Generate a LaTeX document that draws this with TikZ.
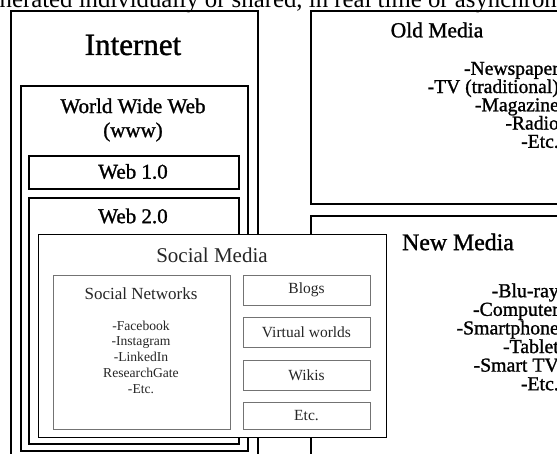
\documentclass[tikz,border=0pt]{standalone}
\usepackage{fontspec}
\setmainfont{Liberation Serif}
\newfontfamily\heavyfont{Liberation Serif}[FakeBold=1.2]
\newcommand{\fsz}[2]{\fontsize{#1}{#2}\selectfont}
\begin{document}
\begin{tikzpicture}[x=1pt,y=-1pt,
  thickbox/.style={draw=black, line width=2.2pt, inner sep=0pt, anchor=north west},
  smbox/.style={draw=black, line width=1.3pt, fill=white, inner sep=0pt, anchor=north west},
  graybox/.style={draw=black!55, line width=1pt, inner sep=0pt, anchor=north west},
  lbl/.style={inner sep=0pt, text=black},
  hlbl/.style={inner sep=0pt, text=black},
  smlbl/.style={inner sep=0pt, text=black!85}]
\useasboundingbox (0,0) rectangle (557,454);

% cropped caption line at top
\node[lbl, anchor=base west, font=\fsz{24.8}{28}] (caption) at (-24,8) {generated individually or shared, in real time or asynchronously};

% Internet column
\node[thickbox, minimum width=247pt, minimum height=470pt] (internet) at (10,10) {};
\node[hlbl, font=\heavyfont\fsz{31}{34}] (internetlbl) at (133,45) {Internet};
\node[thickbox, minimum width=227pt, minimum height=365pt] (www) at (20,85) {};
\node[hlbl, font=\heavyfont\fsz{21}{24}, align=center] (wwwlbl) at (133,120) {World Wide Web\\(www)};
\node[thickbox, minimum width=210pt, minimum height=33pt] (web1) at (28,155) {};
\node[hlbl, font=\heavyfont\fsz{21}{22}] (web1lbl) at (133,171.5) {Web 1.0};
\node[thickbox, minimum width=210pt, minimum height=246pt] (web2) at (28,197) {};
\node[hlbl, font=\heavyfont\fsz{21}{22}] (web2lbl) at (133,216) {Web 2.0};

% Old media
\node[thickbox, minimum width=300pt, minimum height=193pt] (old) at (310,10) {};
\node[hlbl, font=\heavyfont\fsz{21.5}{24}] (oldlbl) at (437,30) {Old Media};
\node[hlbl, font=\heavyfont\fsz{19.6}{18.25}, align=right, anchor=east] (oldlist) at (559,105)
  {-Newspaper\\-TV (traditional)\\-Magazine\\-Radio\\-Etc.};

% New media
\node[thickbox, minimum width=300pt, minimum height=270pt] (new) at (310,215) {};
\node[hlbl, font=\heavyfont\fsz{23.8}{26}] (newlbl) at (458,242) {New Media};
\node[hlbl, font=\heavyfont\fsz{19.8}{18.6}, align=right, anchor=east] (newlist) at (559,337)
  {-Blu-ray\\-Computer\\-Smartphone\\-Tablet\\-Smart TV\\-Etc.};

% Social media
\node[smbox, minimum width=348pt, minimum height=203pt] (sm) at (38,234) {};
\node[smlbl, font=\fsz{21}{24}] (smlbl) at (212,255) {Social Media};
\node[graybox, minimum width=177pt, minimum height=154pt] (sn) at (53,275) {};
\node[smlbl, font=\fsz{17}{20}] (snlbl) at (141,294) {Social Networks};
\node[smlbl, font=\fsz{13.6}{15.75}, align=center] (snlist) at (141,357)
  {-Facebook\\-Instagram\\-LinkedIn\\ResearchGate\\-Etc.};
\node[graybox, minimum width=127pt, minimum height=30pt] (blogs) at (243,275) {};
\node[smlbl, font=\fsz{15.5}{17}] (blogslbl) at (306.5,290) {Blogs};
\node[graybox, minimum width=127pt, minimum height=30pt] (virtual) at (243,317) {};
\node[smlbl, font=\fsz{15.5}{17}] (virtuallbl) at (306.5,332) {Virtual worlds};
\node[graybox, minimum width=127pt, minimum height=30pt] (wikis) at (243,360) {};
\node[smlbl, font=\fsz{15.5}{17}] (wikislbl) at (306.5,375) {Wikis};
\node[graybox, minimum width=127pt, minimum height=27pt] (etc) at (243,402) {};
\node[smlbl, font=\fsz{15.5}{17}] (etclbl) at (306.5,415.5) {Etc.};
\end{tikzpicture}
\end{document}
